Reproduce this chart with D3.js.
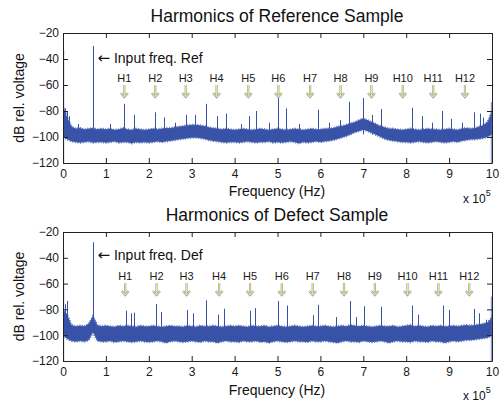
<!DOCTYPE html>
<html><head><meta charset="utf-8">
<script src="https://cdn.jsdelivr.net/npm/d3@7"></script>
<style>
body{margin:0;background:#fff;}
svg{display:block;font-family:"Liberation Sans",Arial,sans-serif;}
</style></head>
<body><svg id="c" width="501" height="406"></svg>
<script>
// ---------------- data ----------------
const xTicks = [0,1,2,3,4,5,6,7,8,9,10];
const yTicks = [-120,-100,-80,-60,-40,-20];
const harmLabels = ["H1","H2","H3","H4","H5","H6","H7","H8","H9","H10","H11","H12"];
const titles = ["Harmonics of Reference Sample","Harmonics of Defect Sample"];
const inputLabels = ["Input freq. Ref","Input freq. Def"];
// envelope sample frequencies (x 1e5 Hz), step 0.1
const gridF = d3.range(101).map(i => i / 10);

// Reference sample: noise band envelopes (dB)
const refUpper = [
-76,-85,-92,-93.5,-93,-94,-93.5,-93,-94,-93.5,
-94,-93.5,-94.5,-94,-93,-94,-94.5,-93.5,-94,-94.5,
-94,-93.5,-94,-93.5,-93,-93,-92.5,-92,-91.5,-91,
-90.5,-90.5,-91,-91.5,-92.5,-93,-93.5,-94,-93.5,-94,
-94.5,-94,-93.5,-94,-94.5,-94,-93.5,-94,-94.5,-94,
-93.5,-94,-94.5,-94,-93.5,-94,-94.5,-94,-93.5,-94,
-94,-93.5,-93.5,-93,-92,-91.5,-90.5,-89.5,-88.5,-87,
-85.5,-87,-88.5,-90,-91.5,-92.5,-93.5,-93.5,-94,-94.5,
-94,-93.5,-94,-94.5,-94,-93.5,-94,-94,-94.5,-94,
-93.5,-94,-94.5,-93.5,-93,-93.5,-93,-92,-91,-88,
-80];
const refLower = [
-100,-102,-103.5,-104,-104.5,-104,-103.5,-104.5,-104,-104,
-104.5,-104,-103.5,-104.5,-104,-104,-105,-104,-104.5,-104,
-104.5,-104,-103.5,-104,-103.5,-103,-102.5,-102,-101.5,-101,
-100.5,-100.5,-101,-101.5,-102.5,-103,-103.5,-104,-104.5,-104,
-104,-104.5,-104,-103.5,-104,-104.5,-104,-104,-103.5,-104.5,
-104,-104.5,-104,-103.5,-104,-105,-104,-104.5,-104,-103.5,
-104,-103.5,-103,-102.5,-101.5,-100.5,-99.5,-98,-96.5,-95.5,
-94.5,-95.5,-97,-98.5,-100,-101.5,-102.5,-103,-103.5,-104,
-104,-104.5,-104,-103.5,-104,-104.5,-104,-103.5,-104,-104.5,
-104,-103.5,-104,-103,-102.5,-102,-102,-101.5,-101,-100,
-98];
// Reference spikes [freq, dB]
const refSpikes = [
[0.04,-78],[0.09,-80],[0.14,-84],[0.35,-90],[0.71,-30],[1.1,-90],[1.42,-74.5],[1.65,-83],
[2.15,-81],[2.35,-85],[2.6,-89],[2.86,-83],[3.07,-83],[3.33,-74.5],[3.58,-84],
[3.79,-82],[4.15,-90],[4.34,-84],[4.51,-80],[4.8,-89],[5.0,-68],[5.2,-78],[5.5,-90],
[5.95,-79],[6.2,-89],[6.46,-87],[6.67,-73],[7.0,-70],[7.2,-83],[7.41,-78.5],
[8.13,-77.5],[8.36,-84],[8.6,-89],[8.83,-80],[9.04,-86],[9.3,-89],[9.58,-81],
[9.72,-82],[9.79,-85]];
// Reference edge values (DC and Nyquist end)
const refEdges = [[0,-33],[10,-73]];
const refHarmF = [1.43,2.15,2.86,3.58,4.32,5.02,5.76,6.47,7.19,7.92,8.63,9.37];

// Defect sample
const defUpper = [
-80,-84,-92,-93,-92.5,-93,-91,-85,-92,-93,
-92.5,-93,-93.5,-92.5,-93,-92.5,-93,-93.5,-92.5,-93,
-93,-92.5,-93,-93.5,-93,-92.5,-93,-93,-93.5,-92.5,
-93,-93.5,-92.5,-93,-93,-92.5,-93,-93.5,-93,-92.5,
-93,-92.5,-93,-93.5,-92.5,-93,-93,-92.5,-93.5,-93,
-92.5,-93,-93.5,-93,-92.5,-93,-93.5,-93,-92.5,-93,
-93,-92.5,-93,-93.5,-93,-92.5,-93,-92,-92.5,-93,
-92.5,-93,-93.5,-93,-92.5,-93,-93,-92.5,-93.5,-93,
-92.5,-92,-93,-92.5,-93,-93.5,-92.5,-93,-92.5,-93,
-93,-92.5,-93,-92.5,-92,-92.5,-92,-91.5,-91,-90,
-86];
const defLower = [
-100,-103,-104.5,-105,-104.5,-105,-104,-98,-104.5,-105,
-105,-104.5,-105.5,-105,-104.5,-105,-105.5,-105,-104.5,-105,
-105.5,-105,-104.5,-105,-106,-105,-104.5,-105,-105.5,-105,
-104.5,-105,-105.5,-104.5,-105,-105,-106,-105,-104.5,-105,
-105,-105.5,-104.5,-105,-105,-104.5,-105.5,-105,-106,-105,
-104.5,-105,-105.5,-105,-104.5,-105,-105,-105.5,-104.5,-105,
-105,-104.5,-105,-105.5,-106,-105,-104.5,-105,-105,-105.5,
-104.5,-105,-105.5,-105,-104.5,-105,-106,-105,-104.5,-105,
-105,-105.5,-104.5,-105,-105,-105.5,-104.5,-105,-105,-106,
-105,-104.5,-105,-104.5,-104,-104,-103.5,-103,-102.5,-102,
-100];
const defSpikes = [
[0.04,-76],[0.1,-73.5],[0.71,-28],[1.46,-81],[1.58,-83],[1.65,-82.5],[2.17,-75.8],
[2.28,-82],[2.9,-80.5],[3.03,-83],[3.33,-73],[3.62,-84],[3.76,-79.5],[4.36,-81],
[4.48,-79],[5.02,-73.5],[5.23,-77],[5.83,-84.5],[5.95,-76.5],[6.36,-86],[6.69,-73.5],
[6.83,-86],[7.02,-77.5],[7.41,-78],[8.14,-77],[8.27,-84],[8.85,-77],[9.0,-80.5],
[9.59,-79.5],[9.7,-83],[9.86,-88]];
const defEdges = [[0,-36],[10,-70]];
const defHarmF = [1.45,2.18,2.88,3.64,4.36,5.10,5.82,6.55,7.27,8.03,8.75,9.47];

// ---------------- drawing ----------------
const svg = d3.select("#c");
const BLUE = "#3752a6";
const panels = [
  {top:33, bottom:163, title:titles[0], input:inputLabels[0], up:refUpper, lo:refLower, spikes:refSpikes, edges:refEdges, harm:refHarmF,
   titleY:22, inputY:63, hY:82, arrowY:[85,97], tickLblPad:6.5, xlabY:196, x10Y:203},
  {top:232, bottom:361, title:titles[1], input:inputLabels[1], up:defUpper, lo:defLower, spikes:defSpikes, edges:defEdges, harm:defHarmF,
   titleY:221, inputY:260, hY:280, arrowY:[283,295], tickLblPad:6.5, xlabY:395, x10Y:400}
];
const L = 63, R = 492;

panels.forEach((p, pi) => {
  const x = d3.scaleLinear().domain([0,10]).range([L,R]);
  const y = d3.scaleLinear().domain([-120,-20]).range([p.bottom,p.top]);
  const g = svg.append("g");
  const clipId = "clip"+pi;
  g.append("clipPath").attr("id",clipId).append("rect")
    .attr("x",L).attr("y",p.top).attr("width",R-L).attr("height",p.bottom-p.top);
  const data = g.append("g").attr("clip-path",`url(#${clipId})`);

  // edge lines (DC / end), light
  data.selectAll("line.edge").data(p.edges).join("line")
    .attr("x1",d=>x(d[0])+(d[0]===0?0.5:-0.5)).attr("x2",d=>x(d[0])+(d[0]===0?0.5:-0.5))
    .attr("y1",y(-120)).attr("y2",d=>y(d[1]))
    .attr("stroke","#8ea0d6").attr("stroke-width",1.5);

  // noise band
  const area = d3.area()
    .x((d,i)=>x(gridF[i]))
    .y0((d,i)=>y(p.lo[i]))
    .y1((d,i)=>y(p.up[i]));
  data.append("path").datum(p.up).attr("d",area)
    .attr("fill",BLUE).attr("stroke","none");
  // speckled fringe along the band edges (visual texture only)
  data.append("path").datum(p.up).attr("d",area)
    .attr("fill","none").attr("stroke","#5a71b8").attr("stroke-width",2)
    .attr("stroke-dasharray","1,1.6");

  // spikes
  data.selectAll("line.sp").data(p.spikes).join("line")
    .attr("x1",d=>Math.round(x(d[0]))+0.5).attr("x2",d=>Math.round(x(d[0]))+0.5)
    .attr("y1",y(-98)).attr("y2",d=>y(d[1]))
    .attr("stroke",BLUE).attr("stroke-width",1);

  // axes (box with inward ticks)
  const axB = d3.axisBottom(x).tickValues(xTicks).tickSize(-5).tickSizeOuter(0).tickPadding(p.tickLblPad).tickFormat(d3.format("d"));
  const axT = d3.axisTop(x).tickValues(xTicks).tickSize(-5).tickSizeOuter(0).tickFormat("");
  const axLf = d3.axisLeft(y).tickValues(yTicks).tickSize(-5).tickSizeOuter(0).tickPadding(4);
  const axRt = d3.axisRight(y).tickValues(yTicks).tickSize(-5).tickSizeOuter(0).tickFormat("");
  const style = s => {
    s.selectAll("path.domain").attr("stroke","#222");
    s.selectAll(".tick line").attr("stroke","#222");
    s.selectAll(".tick text").attr("fill","#1a1a1a").attr("font-size",12)
      .attr("font-family","'Liberation Sans',Arial,sans-serif");
  };
  g.append("g").attr("transform",`translate(0,${p.bottom})`).call(axB).call(style);
  g.append("g").attr("transform",`translate(0,${p.top})`).call(axT).call(style);
  g.append("g").attr("transform",`translate(${L},0)`).call(axLf).call(style);
  g.append("g").attr("transform",`translate(${R},0)`).call(axRt).call(style);

  // title
  g.append("text").attr("x",277).attr("y",p.titleY).attr("text-anchor","middle")
    .attr("font-size",17.5).attr("fill","#111").text(p.title);
  // input frequency label
  const it = g.append("text").attr("x",x(0.71)+4).attr("y",p.inputY)
    .attr("font-size",14).attr("fill","#111");
  it.append("tspan").attr("font-family","'DejaVu Sans',sans-serif").attr("font-size",15).text("\u2190");
  it.append("tspan").text(" " + p.input);
  // harmonic labels and arrows
  p.harm.forEach((f,i)=>{
    const hx = x(f);
    g.append("text").attr("x",hx).attr("y",p.hY).attr("text-anchor","middle")
      .attr("font-size",11).attr("fill","#1a1a1a").text(harmLabels[i]);
    const [a0,a1] = p.arrowY;
    const path = `M${hx},${a0}L${hx},${a1}M${hx-3.5},${a1-4}L${hx},${a1}L${hx+3.5},${a1-4}`;
    g.append("path").attr("d",path).attr("fill","none").attr("stroke","#9aa6a8").attr("stroke-width",2.2);
    g.append("path").attr("d",path).attr("fill","none").attr("stroke","#ecea8a").attr("stroke-width",1);
  });
  // axis labels
  g.append("text").attr("x",277).attr("y",p.xlabY).attr("text-anchor","middle")
    .attr("font-size",14).attr("fill","#111").text("Frequency (Hz)");
  const ym = (p.top+p.bottom)/2;
  g.append("text").attr("transform",`translate(24,${ym}) rotate(-90)`).attr("text-anchor","middle")
    .attr("font-size",14).attr("fill","#111").text("dB rel. voltage");
  const xt = g.append("text").attr("x",463).attr("y",p.x10Y).attr("font-size",12).attr("fill","#111");
  xt.append("tspan").text("x 10");
  xt.append("tspan").attr("font-size",9).attr("dy",-7).text("5");
});
</script></body></html>
